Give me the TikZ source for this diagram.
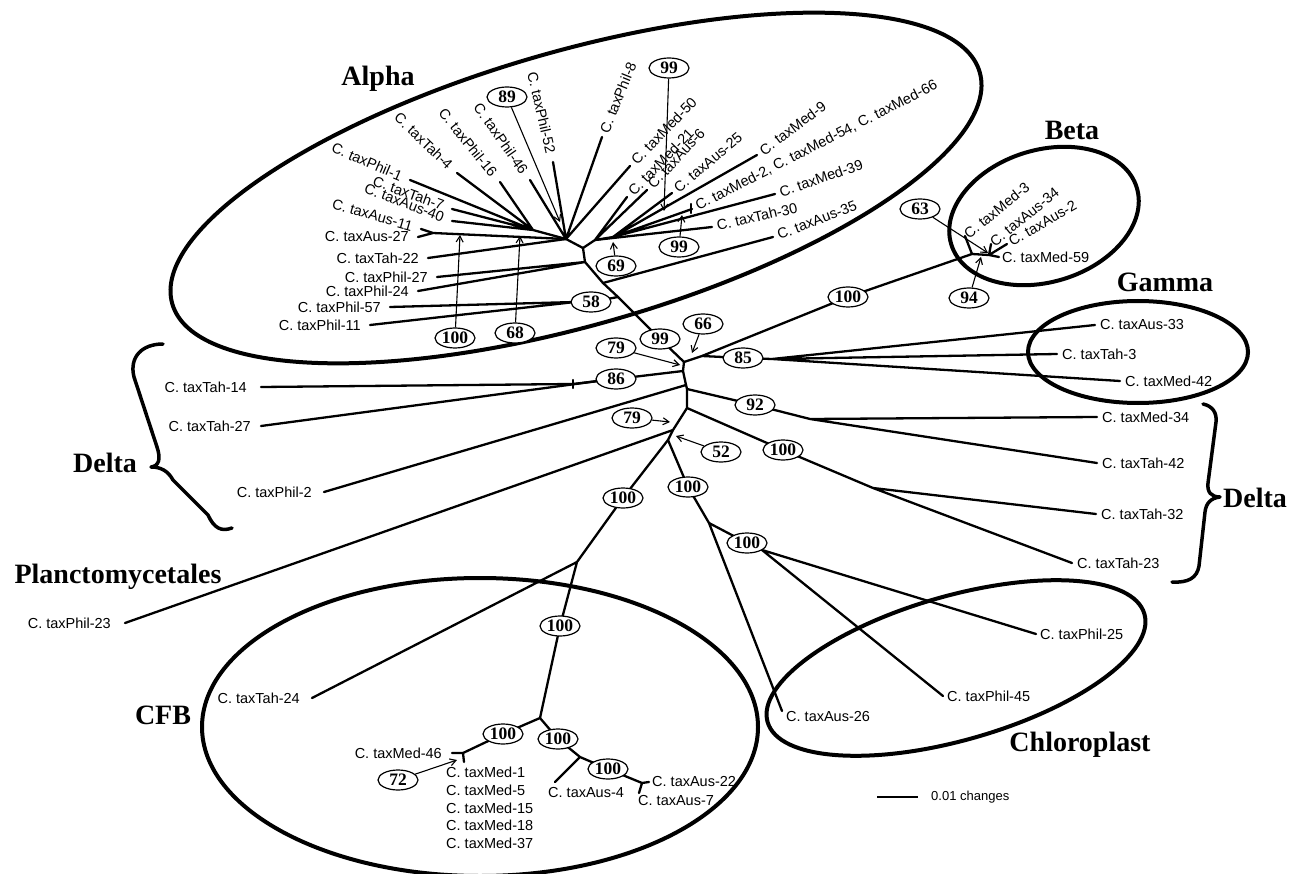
\documentclass[tikz,border=0pt]{standalone}
\usepackage{fontspec}
\setmainfont{Liberation Serif}
\newfontfamily\labfont{Liberation Sans}
\usetikzlibrary{shapes.geometric,arrows.meta,calc}
\begin{document}
\begin{tikzpicture}[x=1pt,y=-1pt,
  br/.style={line width=2.3pt,line cap=round,line join=round},
  ell/.style={line width=4pt},
  bs/.style={draw,ellipse,fill=white,line width=1.2pt,minimum width=40pt,minimum height=20pt,inner sep=0.3pt,font=\fontsize{17.5}{17.5}\selectfont\bfseries},
  arr/.style={line width=1.1pt,-{Straight Barb[length=6pt,width=7pt]}},
  lf/.style={font=\labfont\fontsize{14.5}{17}\selectfont,inner sep=0pt},
  leafL/.style={lf,anchor=east,inner xsep=9pt},
  leafR/.style={lf,anchor=west,inner xsep=5pt},
  grp/.style={font=\fontsize{28}{28}\selectfont\bfseries,inner sep=0pt},
  brace/.style={line width=3.5pt,line cap=round,line join=round},
]
\useasboundingbox (0,0) rectangle (1290,874);

% ---------- clade ellipses ----------
\draw[ell,shift={(576,188)},rotate=16] (0,0) ellipse [x radius=420,y radius=137];
\draw[ell,shift={(1044,216)},rotate=17] (0,0) ellipse [x radius=97,y radius=66];
\draw[ell] (1138,352) ellipse [x radius=110,y radius=51];
\draw[ell] (480,727) ellipse [x radius=278,y radius=149];
\draw[ell,shift={(956,668)},rotate=16] (0,0) ellipse [x radius=196,y radius=72];

% ---------- junctions ----------
\coordinate (JL1) at (533,230);
\coordinate (JA) at (566,239);
\coordinate (AR) at (583,248);
\coordinate (RG1) at (595,240);
\coordinate (RG2) at (613,237);
\coordinate (F27) at (433,233);
\coordinate (B1) at (585,262);
\coordinate (B2) at (603,283);
\coordinate (B3) at (618,297);
\coordinate (J58) at (575,302);
\coordinate (C0) at (684,362);
\coordinate (C1) at (702,356);
\coordinate (G1) at (772,359);
\coordinate (BJ1) at (972,254);
\coordinate (BJ2) at (989,255);
\coordinate (D86) at (683,371);
\coordinate (D1) at (598,381);
\coordinate (T14) at (573,384);
\coordinate (C2) at (686,385);
\coordinate (C3) at (687,389);
\coordinate (DR1) at (810,419);
\coordinate (C4) at (687,408);
\coordinate (DR2) at (873,488);
\coordinate (C5) at (673,430);
\coordinate (C6) at (668,440);
\coordinate (CFB1) at (577,562);
\coordinate (CFB2) at (540,718);
\coordinate (CFB3) at (463,753);
\coordinate (CFB4) at (580,757);
\coordinate (CFB5) at (642,783);
\coordinate (CH1) at (709,523);
\coordinate (CH2) at (762,550);
% bootstrap positions on branches
\coordinate (p58) at (591,302);
\coordinate (p99c) at (660,339);
\coordinate (p86) at (616,379);
\coordinate (p85) at (743,358);
\coordinate (p92) at (755,405);
\coordinate (pbeta) at (848,297);
\coordinate (pdel) at (783,450);
\coordinate (pcfb) at (623,498);
\coordinate (pchl) at (688,487);
\coordinate (pchl2) at (747,543);
\coordinate (pc1) at (560,626);
\coordinate (pc2) at (503,734);
\coordinate (pc3) at (558,739);
\coordinate (pc4) at (608,769);
% free ends
\coordinate (aus4e) at (555,782);
\coordinate (aus7e) at (639,793);
\coordinate (aus26e) at (782,711);
\coordinate (m1e) at (464,762);

% ---------- leaf labels ----------
% Alpha, left
\node[leafL,rotate=-23] (phil1) at (410,180) {C. taxPhil-1};
\node[leafL,rotate=-44] (tah4) at (457,173) {C. taxTah-4};
\node[leafL,rotate=-51] (phil16) at (500,182) {C. taxPhil-16};
\node[leafL,rotate=-20] (tah7) at (452,209) {C. taxTah-7};
\node[leafL,rotate=-21] (aus40) at (452,221) {C. taxAus-40};
\node[leafL,rotate=-16] (aus11) at (421,229) {C. taxAus-11};
\node[leafL] (aus27) at (418,237) {C. taxAus-27};
\node[leafL] (tah22) at (428,258) {C. taxTah-22};
\node[leafL] (phil27) at (437,277) {C. taxPhil-27};
\node[leafL] (phil24) at (418,291) {C. taxPhil-24};
\node[leafL] (phil57) at (390,307) {C. taxPhil-57};
\node[leafL] (phil11) at (370,325) {C. taxPhil-11};
\node[leafL,rotate=-55] (phil46) at (530,180) {C. taxPhil-46};
\node[leafL,rotate=-77] (phil52) at (553,162) {C. taxPhil-52};
% Alpha, right
\node[leafR,rotate=68] (phil8) at (602,137) {C. taxPhil-8};
\node[leafR,rotate=46] (med50) at (630,166) {C. taxMed-50};
\node[leafR,rotate=46] (med21) at (627,197) {C. taxMed-21};
\node[leafR,rotate=47] (aus6) at (647,190) {C. taxAus-6};
\node[leafR,rotate=40] (aus25) at (672,193) {C. taxAus-25};
\node[leafR,rotate=37] (med9) at (757,155) {C. taxMed-9};
\node[leafR,rotate=27] (med2) at (692,209) {C. taxMed-2, C. taxMed-54, C. taxMed-66};
\node[leafR,rotate=19] (med39) at (775,194) {C. taxMed-39};
\node[leafR,rotate=13] (tah30) at (712,227) {C. taxTah-30};
\node[leafR,rotate=21] (aus35) at (773,237) {C. taxAus-35};
% Beta
\node[leafR,rotate=39,inner xsep=1pt] (med3) at (965,236) {C. taxMed-3};
\node[leafR,rotate=39,inner xsep=1pt] (aus34) at (991,244) {C. taxAus-34};
\node[leafR,rotate=30,inner xsep=3pt] (aus2) at (1007,244) {C. taxAus-2};
\node[leafR,inner xsep=3pt] (med59) at (999,257) {C. taxMed-59};
% Gamma
\node[leafR] (aus33) at (1095,325) {C. taxAus-33};
\node[leafR] (tah3) at (1057,354) {C. taxTah-3};
\node[leafR] (med42) at (1120,381) {C. taxMed-42};
% Delta (right)
\node[leafR] (med34) at (1097,417) {C. taxMed-34};
\node[leafR] (tah42) at (1097,463) {C. taxTah-42};
\node[leafR] (tah32) at (1096,514) {C. taxTah-32};
\node[leafR] (tah23) at (1072,563) {C. taxTah-23};
% Delta (left) and Planctomycetales
\node[leafL,inner xsep=14pt] (tah14) at (261,387) {C. taxTah-14};
\node[leafL,inner xsep=10pt] (tah27) at (261,426) {C. taxTah-27};
\node[leafL,inner xsep=12pt] (phil2) at (324,492) {C. taxPhil-2};
\node[leafL,inner xsep=14pt] (phil23) at (125,623) {C. taxPhil-23};
% CFB
\node[leafL,inner xsep=12pt] (tah24) at (312,698) {C. taxTah-24};
\node[leafL,inner xsep=10pt] (med46) at (452,753) {C. taxMed-46};
\foreach \t [count=\i] in {1,5,15,18,37}
  \node[lf,anchor=west] (medc\i) at (446,{755+17.7*\i}) {C. taxMed-\t};
\node[lf,anchor=west] (aus4) at (548,793) {C. taxAus-4};
\node[leafR,inner xsep=3pt] (aus22) at (649,782) {C. taxAus-22};
\node[lf,anchor=west] (aus7) at (638,801) {C. taxAus-7};
% Chloroplast
\node[lf,anchor=west] (aus26) at (786,717) {C. taxAus-26};
\node[leafR,inner xsep=4pt] (phil25) at (1036,634) {C. taxPhil-25};
\node[leafR,inner xsep=4pt] (phil45) at (943,696) {C. taxPhil-45};

% ---------- branches ----------
\draw[br] (JL1) -- (phil1.east) (JL1) -- (tah4.east) (JL1) -- (phil16.east)
          (JL1) -- (tah7.east) (JL1) -- (aus40.east) (JL1) -- (JA);
\draw[br] (F27) -- (aus11.east) (F27) -- (aus27.east) (F27) -- (JA);
\draw[br] (JA) -- (tah22.east) (JA) -- (phil46.east) (JA) -- (phil52.east)
          (JA) -- (phil8.west) (JA) -- (med50.west) (JA) -- (AR);
\draw[br] (AR) -- (RG1) -- (RG2);
\draw[br] (RG1) -- (med21.west) (RG1) -- (aus6.west) (RG1) -- (tah30.west);
\draw[br] (RG2) -- (aus25.west) (RG2) -- (med9.west) (RG2) -- (med2.west) (RG2) -- (med39.west);
\draw[br] ($(med2.west)+(-1,-5)$) -- ($(med2.west)+(-1,4)$);
\draw[br] (AR) -- (B1) -- (B2) -- (B3) -- (p99c) -- (C0);
\draw[br] (B1) -- (phil27.east) (B1) -- (phil24.east);
\draw[br] (B2) -- (aus35.west);
\draw[br] (B3) -- (p58) -- (J58) (J58) -- (phil57.east) (J58) -- (phil11.east);

\draw[br] (C0) -- (D86) -- (C2) -- (C3) -- (C4) -- (C5) -- (C6);
\draw[br] (C0) -- (C1) -- (pbeta) -- (BJ1);
\draw[br] (C1) -- (p85) -- (G1);
\draw[br] (G1) -- (aus33.west) (G1) -- (tah3.west) (G1) -- (med42.west);
\draw[br] (BJ1) -- (med3.west) (BJ1) -- (BJ2) (BJ2) -- (aus34.west)
          (BJ2) -- (aus2.west) (BJ2) -- (med59.west);
\draw[br] (D86) -- (p86) -- (D1) -- (tah27.east);
\draw[br] (D1) -- (T14) -- (tah14.east);
\draw[br] ($(T14)+(0,-4)$) -- ($(T14)+(0,4)$);
\draw[br] (C2) -- (phil2.east);
\draw[br] (C3) -- (p92) -- (DR1) (DR1) -- (med34.west) (DR1) -- (tah42.west);
\draw[br] (C4) -- (pdel) -- (DR2) (DR2) -- (tah32.west) (DR2) -- (tah23.west);
\draw[br] (C5) -- (phil23.east);
\draw[br] (C6) -- (pcfb) -- (CFB1) -- (pc1) -- (CFB2) (CFB1) -- (tah24.east);
\draw[br] (CFB2) -- (pc2) -- (CFB3) (CFB2) -- (pc3) -- (CFB4) -- (pc4) -- (CFB5) (CFB4) -- (aus4e);
\draw[br] (CFB3) -- (med46.east) (CFB3) -- (m1e);
\draw[br] (CFB5) -- (aus22.west) (CFB5) -- (aus7e);
\draw[br] (C6) -- (pchl) -- (CH1) -- (aus26e) (CH1) -- (pchl2) -- (CH2)
          (CH2) -- (phil25.west) (CH2) -- (phil45.west);

% ---------- bootstrap values on branches ----------
\node[bs] (b58) at (p58) {58};
\node[bs] (b99c) at (p99c) {99};
\node[bs] (b86) at (p86) {86};
\node[bs] (b85) at (p85) {85};
\node[bs] (b92) at (p92) {92};
\node[bs] (b100beta) at (pbeta) {100};
\node[bs] (b100d) at (pdel) {100};
\node[bs] (b100cfb) at (pcfb) {100};
\node[bs] (b100chl) at (pchl) {100};
\node[bs] (b100chl2) at (pchl2) {100};
\node[bs] (b100c1) at (pc1) {100};
\node[bs] (b100c2) at (pc2) {100};
\node[bs] (b100c3) at (pc3) {100};
\node[bs] (b100c4) at (pc4) {100};

% ---------- bootstrap values with arrows ----------
\node[bs] (b100a) at (455,338) {100};
\node[bs] (b68) at (515,333) {68};
\node[bs] (b89) at (507,97) {89};
\node[bs] (b99t) at (669,68) {99};
\node[bs] (b69) at (616,266) {69};
\node[bs] (b99l) at (679,247) {99};
\node[bs] (b63) at (920,209) {63};
\node[bs] (b94) at (969,298) {94};
\node[bs] (b66) at (703,324) {66};
\node[bs] (b79u) at (616,348) {79};
\node[bs] (b79l) at (632,418) {79};
\node[bs] (b52) at (721,452) {52};
\node[bs] (b72) at (398,780) {72};
\coordinate (t100a) at (460,235);
\coordinate (t68) at (520,236);
\coordinate (t89) at (560,222);
\coordinate (t99t) at (664,211);
\coordinate (t69) at (613,242);
\coordinate (t99l) at (682,215);
\coordinate (t63) at (988,253);
\coordinate (t94) at (981,257);
\coordinate (t66) at (692,353);
\coordinate (t79u) at (680,365);
\coordinate (t79l) at (670,422);
\coordinate (t52) at (676,436);
\coordinate (t72) at (457,760);
\draw[arr] (b100a) -- (t100a);
\draw[arr] (b68) -- (t68);
\draw[arr] (b89) -- (t89);
\draw[arr] (b99t) -- (t99t);
\draw[arr] (b69) -- (t69);
\draw[arr] (b99l) -- (t99l);
\draw[arr] (b63) -- (t63);
\draw[arr] (b94) -- (t94);
\draw[arr] (b66) -- (t66);
\draw[arr] (b79u) -- (t79u);
\draw[arr] (b79l) -- (t79l);
\draw[arr] (b52) -- (t52);
\draw[arr] (b72) -- (t72);

% ---------- braces ----------
\draw[brace] (163,344) .. controls (142,344) and (129,357) .. (134,377)
  -- (157,447) .. controls (161,459) and (159,466) .. (151,467)
  .. controls (161,467) and (168,471) .. (173,480)
  -- (208,515) .. controls (214,528) and (221,532) .. (232,528);
\draw[brace] (1203,404) .. controls (1212,406) and (1217,412) .. (1216,422)
  -- (1208,483) .. controls (1207,492) and (1211,497) .. (1220,497)
  .. controls (1211,498) and (1206,503) .. (1205,512)
  -- (1199,566) .. controls (1197,578) and (1188,583) .. (1172,582);

% ---------- group labels ----------
\node[grp] (alpha) at (378,79) {Alpha};
\node[grp] (beta) at (1072,130) {Beta};
\node[grp] (gamma) at (1165,282) {Gamma};
\node[grp] (deltaL) at (105,463) {Delta};
\node[grp] (deltaR) at (1255,498) {Delta};
\node[grp] (planc) at (118,577) {Planctomycetales};
\node[grp] (cfb) at (163,715) {CFB};
\node[grp] (chl) at (1080,745) {Chloroplast};

% ---------- scale bar ----------
\coordinate (sb1) at (877,797);
\coordinate (sb2) at (918,797);
\draw[br,line cap=butt] (sb1) -- (sb2);
\node[lf,anchor=west,font=\labfont\fontsize{13}{13}\selectfont] (sbt) at (931,797) {0.01 changes};
\end{tikzpicture}
\end{document}
